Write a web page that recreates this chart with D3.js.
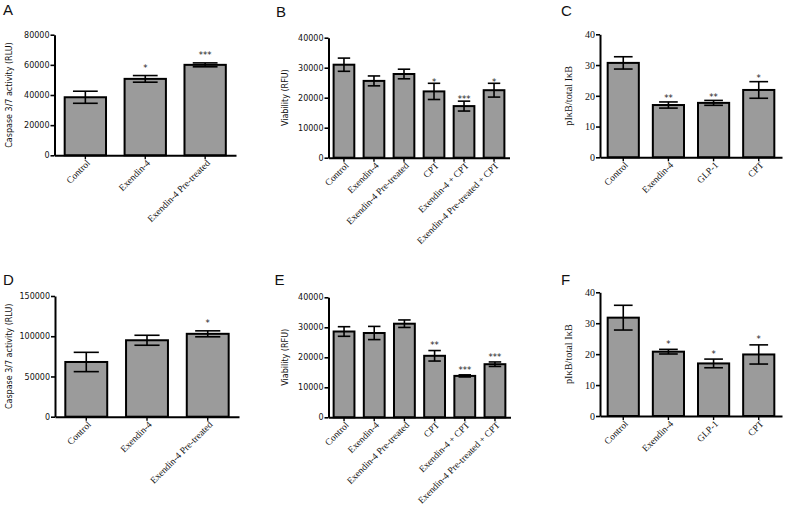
<!DOCTYPE html>
<html><head><meta charset="utf-8">
<script src="https://cdn.jsdelivr.net/npm/d3@7"></script>
<style>body{margin:0;background:#fff}svg{display:block}</style>
</head><body>
<svg id="c" width="787" height="508"></svg>
<script>
// ---- data ----
const catsA = ["Control", "Exendin-4", "Exendin-4 Pre-treated"];
const meansA = [38500, 50700, 60000];
const errA = [4000, 2200, 1300];
const sigA = ["", "*", "***"];

const catsB = ["Control", "Exendin-4", "Exendin-4 Pre-treated", "CPT", "Exendin-4 + CPT", "Exendin-4 Pre-treated + CPT"];
const meansB = [31000, 25600, 27900, 22100, 17200, 22500];
const errB = [2200, 1650, 1600, 2700, 1650, 2300];
const sigB = ["", "", "", "*", "***", "*"];

const catsC = ["Control", "Exendin-4", "GLP-1", "CPT"];
const meansC = [30.7, 17.0, 17.7, 21.9];
const errC = [2.0, 1.0, 0.8, 2.7];
const sigC = ["", "**", "**", "*"];

const catsD = ["Control", "Exendin-4", "Exendin-4 Pre-treated"];
const meansD = [68000, 95000, 103000];
const errD = [12000, 6200, 3700];
const sigD = ["", "", "*"];

const catsE = ["Control", "Exendin-4", "Exendin-4 Pre-treated", "CPT", "Exendin-4 + CPT", "Exendin-4 Pre-treated + CPT"];
const meansE = [28600, 28100, 31200, 20500, 13800, 17700];
const errE = [1600, 2200, 1250, 1750, 350, 750];
const sigE = ["", "", "", "**", "***", "***"];

const catsF = ["Control", "Exendin-4", "GLP-1", "CPT"];
const meansF = [31.8, 20.8, 17.0, 19.9];
const errF = [4.0, 0.75, 1.4, 3.1];
const sigF = ["", "*", "*", "*"];

const ticksA = [0, 20000, 40000, 60000, 80000];
const ticksB = [0, 10000, 20000, 30000, 40000];
const ticksC = [0, 10, 20, 30, 40];
const ticksD = [0, 50000, 100000, 150000];

const labelCasp = "Caspase 3/7 activity (RLU)";
const labelVia = "Viability (RFU)";
const labelIkb = "pIκB/total IκB";

// ---- layout ----
const panels = [
  {letter:"A", cats:catsA, means:meansA, errs:errA, sigs:sigA, ticks:ticksA, ylab:labelCasp,
   x0:54.5, x1:236, yTop:34.7, yBot:155.3, lx:3, ly:15, labX:9, serif:false, gap:10},
  {letter:"B", cats:catsB, means:meansB, errs:errB, sigs:sigB, ticks:ticksB, ylab:labelVia,
   x0:328.5, x1:509.5, yTop:37.7, yBot:157.7, lx:276, ly:16.5, labX:285, serif:false, gap:4},
  {letter:"C", cats:catsC, means:meansC, errs:errC, sigs:sigC, ticks:ticksC, ylab:labelIkb,
   x0:600, x1:782, yTop:34.3, yBot:157.3, lx:561, ly:15.5, labX:568, serif:true, gap:5.7},
  {letter:"D", cats:catsD, means:meansD, errs:errD, sigs:sigD, ticks:ticksD, ylab:labelCasp,
   x0:55, x1:239, yTop:296, yBot:416.7, lx:3, ly:285, labX:9, serif:false, gap:10},
  {letter:"E", cats:catsE, means:meansE, errs:errE, sigs:sigE, ticks:ticksB, ylab:labelVia,
   x0:328.5, x1:510.5, yTop:297.3, yBot:417.3, lx:274.5, ly:285, labX:285, serif:false, gap:7.5},
  {letter:"F", cats:catsF, means:meansF, errs:errF, sigs:sigF, ticks:ticksC, ylab:labelIkb,
   x0:600, x1:782, yTop:292.3, yBot:416, lx:561, ly:285, labX:568, serif:true, gap:7.7}
];

const svg = d3.select("#c");
const SERIF = "'Liberation Serif','Times New Roman',serif";
const SANS = "'DejaVu Sans',Verdana,sans-serif";
const FILL = "#9b9b9b";

panels.forEach(p => {
  const g = svg.append("g");
  const x = d3.scaleBand().domain(p.cats).range([p.x0, p.x1]).paddingInner(0.31).paddingOuter(0.17);
  const y = d3.scaleLinear().domain([0, p.ticks[p.ticks.length-1]]).range([p.yBot, p.yTop]);
  const data = p.cats.map((c,i) => ({c, m:p.means[i], e:p.errs[i], s:p.sigs[i]}));

  // bars
  g.selectAll("rect.bar").data(data).join("rect")
    .attr("x", d => x(d.c)).attr("width", x.bandwidth())
    .attr("y", d => y(d.m)).attr("height", d => y(0) - y(d.m))
    .attr("fill", FILL).attr("stroke", "#000").attr("stroke-width", 2);

  // error bars
  const cap = x.bandwidth() * 0.3;
  const eb = g.selectAll("g.eb").data(data).join("g").attr("stroke", "#000").attr("stroke-width", 1.6);
  eb.append("line").attr("x1", d => x(d.c)+x.bandwidth()/2).attr("x2", d => x(d.c)+x.bandwidth()/2)
    .attr("y1", d => y(d.m+d.e)).attr("y2", d => y(d.m-d.e));
  eb.append("line").attr("x1", d => x(d.c)+x.bandwidth()/2-cap).attr("x2", d => x(d.c)+x.bandwidth()/2+cap)
    .attr("y1", d => y(d.m+d.e)).attr("y2", d => y(d.m+d.e));
  eb.append("line").attr("x1", d => x(d.c)+x.bandwidth()/2-cap).attr("x2", d => x(d.c)+x.bandwidth()/2+cap)
    .attr("y1", d => y(d.m-d.e)).attr("y2", d => y(d.m-d.e));

  // significance stars
  g.selectAll("text.sig").data(data.filter(d => d.s)).join("text")
    .attr("x", d => x(d.c)+x.bandwidth()/2)
    .attr("y", d => y(d.m+d.e) - p.gap + 5.2)
    .attr("text-anchor", "middle").attr("font-family", SANS).attr("font-size", 8.5)
    .attr("fill", "#222").text(d => d.s);

  // y axis
  const ya = g.append("g").attr("transform", `translate(${p.x0},0)`)
    .call(d3.axisLeft(y).tickValues(p.ticks).tickSize(4).tickSizeOuter(0).tickPadding(1)
      .tickFormat(d3.format("d")));
  ya.select(".domain").attr("stroke-width", 2);
  ya.selectAll(".tick line").attr("stroke-width", 1.6);
  ya.selectAll(".tick text").attr("font-family", p.serif ? SERIF : SANS)
    .attr("font-size", p.serif ? 10 : 8).attr("fill", "#111");

  // x axis
  const xa = g.append("g").attr("transform", `translate(0,${p.yBot})`)
    .call(d3.axisBottom(x).tickSize(4).tickSizeOuter(0).tickPadding(2));
  xa.select(".domain").attr("stroke-width", 2);
  xa.selectAll(".tick line").attr("stroke-width", 1.4);
  xa.selectAll(".tick text").attr("font-family", SERIF).attr("font-size", 9.5).attr("fill", "#111")
    .attr("text-anchor", "end").attr("transform", "translate(3,6) rotate(-45)")
    .attr("dy", "0.35em").attr("y", 0).attr("x", 0);

  // y label
  g.append("text").attr("transform", `translate(${p.labX},${(p.yTop+p.yBot)/2}) rotate(-90)`)
    .attr("text-anchor", "middle").attr("dy", "0.35em")
    .attr("font-family", p.serif ? SERIF : SANS).attr("font-size", p.serif ? 10.3 : 8)
    .attr("fill", "#111").text(p.ylab);

  // panel letter
  g.append("text").attr("x", p.lx).attr("y", p.ly)
    .attr("font-family", "'Liberation Sans',Arial,sans-serif").attr("font-size", 15)
    .attr("fill", "#111").text(p.letter);
});
</script>
</body></html>
